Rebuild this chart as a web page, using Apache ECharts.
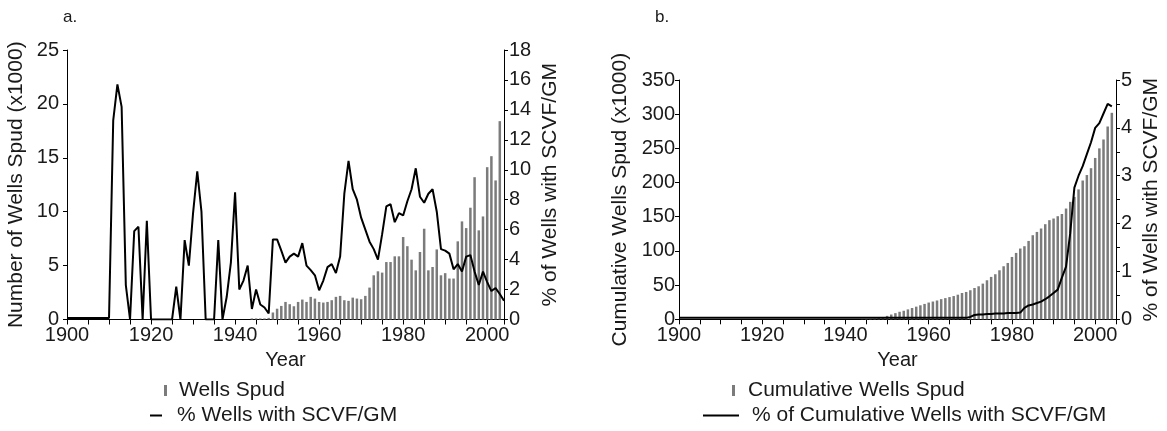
<!DOCTYPE html>
<html>
<head>
<meta charset="utf-8">
<script src="https://cdn.jsdelivr.net/npm/echarts@6/dist/echarts.min.js"></script>
<style>
  html, body { margin: 0; padding: 0; background: #fff; }
  #chart { width: 1167px; height: 431px; }
</style>
</head>
<body>
<div id="chart"></div>
<script>
// panel a: yearly wells spud (x1000), bars start in 1944
var spudStart = 1944;
var wellsSpud = [
  0.1, 0.1, 0.1, 0.1, 0.15, 0.65,
  1.0, 1.26, 1.63, 1.42, 1.23, 1.63, 1.85, 1.63, 2.1, 1.94,
  1.63, 1.57, 1.63, 1.79, 2.1, 2.19, 1.79, 1.73, 2.03, 1.94,
  1.88, 2.19, 2.96, 4.1, 4.47, 4.35, 5.33, 5.33, 5.86, 5.86,
  7.65, 6.8, 5.55, 4.56, 6.26, 8.42, 4.56, 4.87, 6.5, 4.1,
  4.3, 3.8, 3.8, 7.25, 9.1, 8.48, 10.37, 13.2, 8.27, 9.56,
  14.13, 15.15, 12.9, 18.4
];
// panel a: % of wells with SCVF/GM, 1900-2004
var pctStart = 1900;
var pctWells = [
  0.1, 0.1, 0.1, 0.1, 0.1, 0.1, 0.1, 0.1, 0.1, 0.1,
  0.1, 13.3, 15.7, 14.2, 2.3, 0, 5.9, 6.2, 0, 6.6,
  0, 0, 0, 0, 0, 0, 2.2, 0, 5.3, 3.6,
  7.1, 9.9, 7.2, 0, 0, 0, 5.3, 0, 1.5, 3.8,
  8.5, 2.0, 2.6, 3.6, 0.7, 2.0, 1.0, 0.8, 0.4, 5.35,
  5.35, 4.6, 3.8, 4.2, 4.4, 4.2, 5.1, 3.6, 3.3, 2.95,
  1.95, 2.6, 3.5, 3.7, 3.1, 4.2, 8.4, 10.6, 8.7, 8.0,
  6.8, 6.0, 5.2, 4.7, 4.0, 5.7, 7.55, 7.7, 6.5, 7.1,
  6.95, 7.9, 8.7, 10.1, 8.2, 7.8, 8.4, 8.7, 7.2, 4.7,
  4.6, 4.4, 3.35, 3.7, 3.2, 4.2, 4.3, 3.2, 2.3, 3.2,
  2.5, 1.9, 2.1, 1.7, 1.25
];
// panel b: cumulative wells spud (x1000), 1944-2004
var cumStart = 1944;
var cumWells = [
  0.2, 0.4, 0.7, 1.1, 1.8, 3.0,
  5.0, 7.0, 9.0, 11.0, 12.5, 14.5, 16.5, 18.5, 20.5, 22.5,
  24.5, 26, 27.5, 29.5, 31, 32.5, 34, 36, 38.5, 40,
  42.5, 45.8, 48.3, 52.2, 57.1, 62, 65.9, 71.7, 77.6, 82.4,
  91.2, 97.1, 103.5, 106.9, 114.6, 123, 127.8, 132.8, 139.1, 145,
  147.4, 150.8, 154, 162, 171.8, 179, 190, 203, 211, 221,
  236, 250, 263, 282, 302
];
// panel b: % of cumulative wells with SCVF/GM, 1900-2004
var cumPctStart = 1900;
var cumPct = [
  0.03, 0.03, 0.03, 0.03, 0.03, 0.03, 0.03, 0.03, 0.03, 0.03,
  0.03, 0.03, 0.03, 0.03, 0.03, 0.03, 0.03, 0.03, 0.03, 0.03,
  0.03, 0.03, 0.03, 0.03, 0.03, 0.03, 0.03, 0.03, 0.03, 0.03,
  0.03, 0.03, 0.03, 0.03, 0.03, 0.03, 0.03, 0.03, 0.03, 0.03,
  0.03, 0.03, 0.03, 0.03, 0.03, 0.03, 0.03, 0.03, 0.03, 0.03,
  0.03, 0.03, 0.03, 0.03, 0.03, 0.03, 0.03, 0.03, 0.03, 0.03,
  0.03, 0.03, 0.03, 0.03, 0.03, 0.03, 0.03, 0.03, 0.03, 0.03,
  0.05, 0.09, 0.1, 0.1, 0.11, 0.11, 0.12, 0.12, 0.12, 0.13,
  0.13, 0.13, 0.14, 0.24, 0.29, 0.31, 0.34, 0.37, 0.42, 0.48,
  0.55, 0.62, 0.87, 1.1, 1.8, 2.75, 3.0, 3.2, 3.45, 3.7,
  4.0, 4.1, 4.3, 4.5, 4.45
];

function pairs(start, arr) {
  return arr.map(function (v, i) { return [start + i, v]; });
}

var FONT = 'Liberation Sans, Arial, sans-serif';
var INK = '#1a1a1a';
var BARC = '#7b7b7b';

function xAx(idx, max) {
  return {
    type: 'value', gridIndex: idx, min: 1900, max: max, interval: 5,
    name: 'Year', nameLocation: 'middle', nameGap: 27,
    nameTextStyle: { fontSize: 20, color: INK, fontFamily: FONT },
    axisLine: { lineStyle: { color: '#000', width: 1 } },
    axisTick: { length: 5, lineStyle: { color: '#000' } },
    axisLabel: {
      fontSize: 20, color: INK, fontFamily: FONT, margin: 6,
      formatter: function (v) { return v % 20 === 0 ? String(v) : ''; }
    },
    splitLine: { show: false }
  };
}

function yAx(idx, pos, max, interval, name, gap, margin, fmt) {
  return {
    type: 'value', gridIndex: idx, position: pos, min: 0, max: max, interval: interval,
    name: name, nameLocation: 'middle', nameGap: gap, nameRotate: 90,
    nameTextStyle: { fontSize: 21, color: INK, fontFamily: FONT },
    axisLine: { show: true, lineStyle: { color: '#000', width: 1 } },
    axisTick: { show: true, length: 4, lineStyle: { color: '#000' } },
    axisLabel: { fontSize: 20, color: INK, fontFamily: FONT, margin: margin, formatter: fmt },
    splitLine: { show: false }
  };
}

function legendItem(name, left, top, w, h, pad) {
  return {
    data: [name], left: left, top: top, icon: 'rect', padding: 0,
    itemWidth: w, itemHeight: h, selectedMode: false,
    textStyle: { fontSize: 21, color: INK, fontFamily: FONT, padding: [0, 0, 0, pad] }
  };
}

var chart = echarts.init(document.getElementById('chart'), null, { renderer: 'canvas' });

chart.setOption({
  animation: false,
  backgroundColor: '#fff',
  title: [
    { text: 'a.', left: 58, top: 4, textStyle: { fontSize: 17, fontWeight: 'normal', color: INK, fontFamily: FONT } },
    { text: 'b.', left: 650, top: 4, textStyle: { fontSize: 17, fontWeight: 'normal', color: INK, fontFamily: FONT } }
  ],
  grid: [
    { left: 67, right: 663, top: 50, bottom: 111.5 },
    { left: 679, right: 51, top: 80, bottom: 111.7 }
  ],
  xAxis: [xAx(0, 2004), xAx(1, 2005)],
  yAxis: [
    yAx(0, 'left', 25, 5, 'Number of Wells Spud (x1000)', 40, 8),
    yAx(0, 'right', 18, 2, '% of Wells with SCVF/GM', 36, 5),
    yAx(1, 'left', 350, 50, 'Cumulative Wells Spud (x1000)', 48, 4),
    yAx(1, 'right', 5, 0.5, '% of Wells with SCVF/GM', 25, 5, function (v) {
      return Number.isInteger(v) ? String(v) : '';
    })
  ],
  legend: [
    legendItem('Wells Spud', 164, 380, 3, 11, 7),
    legendItem('% Wells with SCVF/GM', 150, 405, 12, 2, 10),
    legendItem('Cumulative Wells Spud', 732, 380, 3, 11, 8),
    legendItem('% of Cumulative Wells with SCVF/GM', 703, 405, 36, 2, 8)
  ],
  series: [
    {
      name: 'Wells Spud', type: 'bar', xAxisIndex: 0, yAxisIndex: 0,
      data: pairs(spudStart, wellsSpud), barWidth: 2.5,
      itemStyle: { color: BARC }
    },
    {
      name: '% Wells with SCVF/GM', type: 'line', xAxisIndex: 0, yAxisIndex: 1,
      data: pairs(pctStart, pctWells), symbol: 'none', z: 5,
      itemStyle: { color: '#000' }, lineStyle: { color: '#000', width: 2 }
    },
    {
      name: 'Cumulative Wells Spud', type: 'bar', xAxisIndex: 1, yAxisIndex: 2,
      data: pairs(cumStart, cumWells), barWidth: 2.5,
      itemStyle: { color: BARC }
    },
    {
      name: '% of Cumulative Wells with SCVF/GM', type: 'line', xAxisIndex: 1, yAxisIndex: 3,
      data: pairs(cumPctStart, cumPct), symbol: 'none', z: 5,
      itemStyle: { color: '#000' }, lineStyle: { color: '#000', width: 2 }
    }
  ]
});
</script>
</body>
</html>
